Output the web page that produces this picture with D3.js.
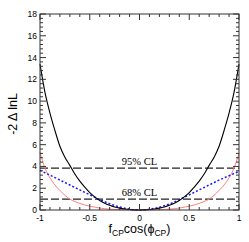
<!DOCTYPE html>
<html>
<head>
<meta charset="utf-8">
<script src="https://cdn.jsdelivr.net/npm/d3@7"></script>
<style>
	body { margin: 0; background: #fff; }
	svg { display: block; }
</style>
</head>
<body>
<div id="chart"></div>
<script>
// scan points along f_CP cos(phi_CP)
const xs = [-1, -0.95, -0.9, -0.85, -0.8, -0.75, -0.7, -0.65, -0.6, -0.55, -0.5, -0.45, -0.4, -0.35, -0.3, -0.25, -0.2, -0.15, -0.1, -0.05, 0,
	0.05, 0.1, 0.15, 0.2, 0.25, 0.3, 0.35, 0.4, 0.45, 0.5, 0.55, 0.6, 0.65, 0.7, 0.75, 0.8, 0.85, 0.9, 0.95, 1];

const blackCurve = [13.4, 10.8, 8.9, 7.3, 5.85, 4.85, 4.1, 3.3, 2.65, 2.1, 1.6, 1.2, 0.88, 0.62, 0.43, 0.28, 0.17, 0.09, 0.04, 0.01, 0,
	0.01, 0.04, 0.09, 0.17, 0.28, 0.43, 0.62, 0.88, 1.2, 1.6, 2.1, 2.65, 3.3, 4.1, 4.85, 5.85, 7.3, 8.9, 10.8, 13.4];

const redCurve = [5.3, 3.85, 2.95, 2.3, 1.8, 1.35, 1.0, 0.78, 0.6, 0.46, 0.35, 0.26, 0.18, 0.12, 0.08, 0.05, 0.03, 0.02, 0.01, 0, 0,
	0, 0.01, 0.02, 0.03, 0.05, 0.08, 0.12, 0.18, 0.26, 0.35, 0.46, 0.6, 0.78, 1.0, 1.35, 1.8, 2.3, 2.95, 3.85, 5.2];

const blueCurve = [3.65, 3.42, 3.2, 2.98, 2.75, 2.52, 2.3, 2.07, 1.85, 1.62, 1.4, 1.17, 0.95, 0.76, 0.58, 0.42, 0.28, 0.16, 0.08, 0.02, 0,
	0.02, 0.07, 0.15, 0.26, 0.4, 0.55, 0.74, 0.95, 1.17, 1.4, 1.62, 1.85, 2.07, 2.3, 2.52, 2.75, 2.95, 3.15, 3.35, 3.55];

const clLevels = [3.84, 1.0];
const clLabels = ["95% CL", "68% CL"];

const xTicks = [-1, -0.5, 0, 0.5, 1];
const yTicks = [0, 2, 4, 6, 8, 10, 12, 14, 16, 18];

const
	width = 249,
	height = 242,
	margin = { top: 14, right: 10, bottom: 32, left: 40 };

const svg = d3.select("#chart")
	.append("svg")
	.attr("width", width)
	.attr("height", height);

const x = d3.scaleLinear().domain([-1, 1]).range([margin.left, width - margin.right]);
const y = d3.scaleLinear().domain([0, 18]).range([height - margin.bottom, margin.top]);

const plot = svg.append("g");

// CL reference lines
clLevels.forEach((lvl, i) => {
	plot.append("line")
		.attr("x1", x(-1))
		.attr("x2", x(1))
		.attr("y1", y(lvl))
		.attr("y2", y(lvl))
		.attr("stroke", "#222")
		.attr("stroke-width", 1.2)
		.attr("stroke-dasharray", "8,3");

	plot.append("text")
		.attr("x", x(0))
		.attr("y", y(lvl) - 3)
		.attr("text-anchor", "middle")
		.style("font-family", "'Liberation Serif', 'DejaVu Serif', serif")
		.style("font-size", "10.5px")
		.text(clLabels[i]);
});

const line = vals => d3.line()
	.x((d, i) => x(xs[i]))
	.y(d => y(d))
	.curve(d3.curveMonotoneX)(vals);

plot.append("path")
	.attr("d", line(redCurve))
	.attr("fill", "none")
	.attr("stroke", "#ff8080")
	.attr("stroke-width", 1);

plot.append("path")
	.attr("d", line(blueCurve))
	.attr("fill", "none")
	.attr("stroke", "#1a1aff")
	.attr("stroke-width", 1.5)
	.attr("stroke-dasharray", "2,2");

plot.append("path")
	.attr("d", line(blackCurve))
	.attr("fill", "none")
	.attr("stroke", "#000")
	.attr("stroke-width", 1.1);

// frame
svg.append("rect")
	.attr("x", x(-1))
	.attr("y", y(18))
	.attr("width", x(1) - x(-1))
	.attr("height", y(0) - y(18))
	.attr("fill", "none")
	.attr("stroke", "#333")
	.attr("stroke-width", 1);

// inward ticks, ROOT style
const tickG = svg.append("g").attr("stroke", "#333").attr("stroke-width", 1);
d3.range(-1, 1.0001, 0.1).forEach(v => {
	const major = Math.abs(v * 2 - Math.round(v * 2)) < 1e-6;
	const len = major ? 6 : 3;
	tickG.append("line").attr("x1", x(v)).attr("x2", x(v)).attr("y1", y(0)).attr("y2", y(0) - len);
	tickG.append("line").attr("x1", x(v)).attr("x2", x(v)).attr("y1", y(18)).attr("y2", y(18) + len);
});
d3.range(0, 18.0001, 0.4).forEach(v => {
	const major = Math.abs(v / 2 - Math.round(v / 2)) < 1e-6;
	const len = major ? 6 : 3;
	tickG.append("line").attr("x1", x(-1)).attr("x2", x(-1) + len).attr("y1", y(v)).attr("y2", y(v));
	tickG.append("line").attr("x1", x(1)).attr("x2", x(1) - len).attr("y1", y(v)).attr("y2", y(v));
});

const labelFont = "'Liberation Sans', Arial, sans-serif";

svg.append("g").selectAll("text")
	.data(xTicks)
	.enter()
	.append("text")
	.attr("x", d => x(d))
	.attr("y", y(0) + 11)
	.attr("text-anchor", "middle")
	.style("font-family", labelFont)
	.style("font-size", "8.5px")
	.text(d => d);

svg.append("g").selectAll("text")
	.data(yTicks)
	.enter()
	.append("text")
	.attr("x", x(-1) - 3)
	.attr("y", d => y(d) + 3)
	.attr("text-anchor", "end")
	.style("font-family", labelFont)
	.style("font-size", "8.5px")
	.text(d => d);

// axis titles
const xt = svg.append("text")
	.attr("x", x(0))
	.attr("y", 233)
	.attr("text-anchor", "middle")
	.style("font-family", labelFont)
	.style("font-size", "12.5px");
xt.append("tspan").text("f");
xt.append("tspan").attr("dy", 3).style("font-size", "8.5px").text("CP");
xt.append("tspan").attr("dy", -3).text("cos(\u03d5");
xt.append("tspan").attr("dy", 3).style("font-size", "8.5px").text("CP");
xt.append("tspan").attr("dy", -3).text(")");

svg.append("text")
	.attr("transform", `translate(17, ${y(9) + 2}) rotate(-90)`)
	.attr("text-anchor", "middle")
	.style("font-family", labelFont)
	.style("font-size", "12.5px")
	.text("-2 \u0394 lnL");
</script>
</body>
</html>
